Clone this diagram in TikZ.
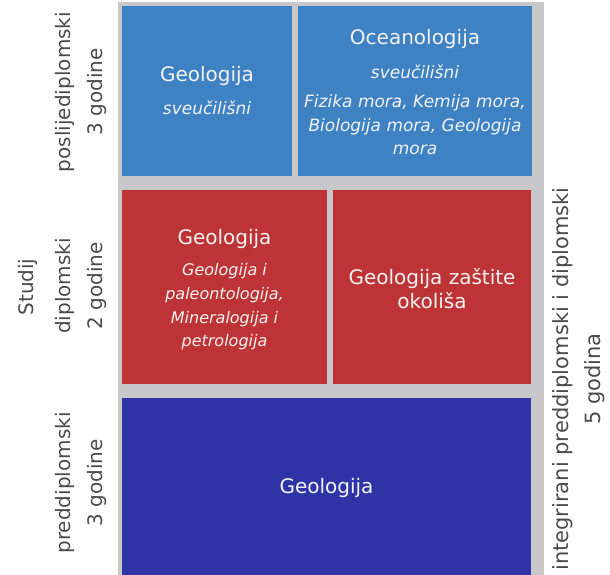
\documentclass[tikz,border=0pt]{standalone}
\usepackage{fontspec}
\setmainfont{DejaVu Sans}
\definecolor{topblue}{RGB}{62,130,196}
\definecolor{midred}{RGB}{190,52,54}
\definecolor{botblue}{RGB}{46,52,166}
\definecolor{panelgray}{RGB}{200,200,202}
\definecolor{labelgray}{RGB}{75,75,75}
\definecolor{boxtext}{RGB}{242,242,242}
\tikzset{
  box/.style={rectangle, inner sep=0pt, text=boxtext, align=center, font=\fontsize{20}{24}\selectfont},
  subbox/.style={rectangle, inner sep=0pt, text=boxtext, align=center, font=\fontsize{17}{23.5}\selectfont\itshape},
  side/.style={rotate=90, align=center, text=labelgray, font=\fontsize{20}{32}\selectfont},
}
\begin{document}
\begin{tikzpicture}[x=1pt,y=-1pt]
\useasboundingbox (0,0) rectangle (610,575);
\fill[panelgray] (118,2) rectangle (544,575);
% top row
\node[box, fill=topblue, minimum width=170pt, minimum height=170pt] (pgeo) at (207,91) {};
\node[box] (pgeot) at (207,76) {Geologija};
\node[subbox] (pgeos) at (207,108) {sveučilišni};
\node[box, fill=topblue, minimum width=234pt, minimum height=170pt] (ocean) at (415,91) {};
\node[box] (oceant) at (415,39) {Oceanologija};
\node[subbox] (oceans) at (415,72) {sveučilišni};
\node[subbox] (oceanl) at (415,125) {Fizika mora, Kemija mora,\\Biologija mora, Geologija\\mora};
% middle row
\node[box, fill=midred, minimum width=205pt, minimum height=194pt] (dgeo) at (224.5,287) {};
\node[box] (dgeot) at (224.5,239) {Geologija};
\node[subbox, font=\fontsize{16}{23.7}\selectfont\itshape] (dgeol) at (224.5,307) {Geologija i\\paleontologija,\\Mineralogija i\\petrologija};
\node[box, fill=midred, minimum width=198pt, minimum height=194pt] (dzast) at (432,287) {};
\node[box] (dzastt) at (432,289) {Geologija zaštite\\okoliša};
% bottom row
\node[box, fill=botblue, minimum width=409pt, minimum height=178pt] (bgeo) at (326.5,487) {};
\node[box] (bgeot) at (326.5,488) {Geologija};
% side labels
\node[side] (lpost) at (81,92) {poslijediplomski\\3 godine};
\node[side] (ldipl) at (81,286) {diplomski\\2 godine};
\node[side] (lstud) at (28,287) {Studij};
\node[side] (lpred) at (81,483) {preddiplomski\\3 godine};
\node[side, font=\fontsize{21}{32}\selectfont] (lint) at (579,379) {integrirani preddiplomski i diplomski\\5 godina};
\end{tikzpicture}
\end{document}
